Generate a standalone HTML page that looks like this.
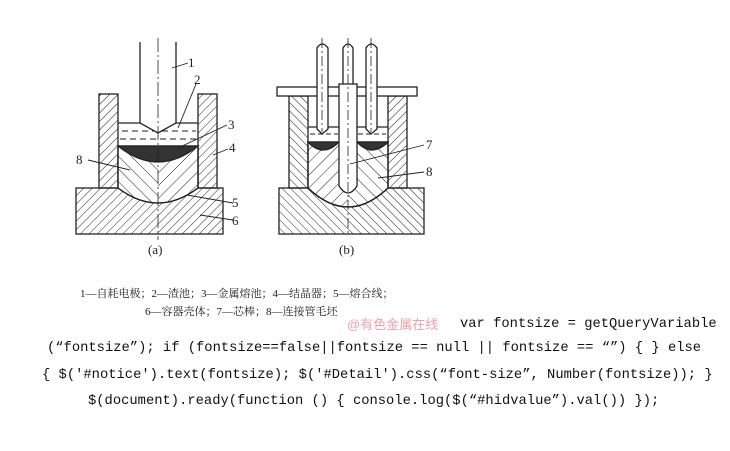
<!DOCTYPE html>
<html><head><meta charset="utf-8"><style>
body{margin:0;background:#fff;width:730px;height:451px;overflow:hidden;position:relative}
.t{position:absolute;white-space:nowrap}
.cn{font-family:"Liberation Serif","Noto Serif CJK SC",serif;font-size:11px;color:#222}
.code{font-family:"Liberation Mono","Noto Sans CJK SC",monospace;font-size:13.8px;color:#111}
</style></head><body>
<svg width="730" height="451" style="position:absolute;left:0;top:0">
<defs>
<pattern id="hb" width="6" height="6" patternUnits="userSpaceOnUse" patternTransform="rotate(45)"><line x1="0" y1="0" x2="0" y2="6" stroke="#222" stroke-width="1"/></pattern>
<pattern id="hf" width="6" height="6" patternUnits="userSpaceOnUse" patternTransform="rotate(-45)"><line x1="0" y1="0" x2="0" y2="6" stroke="#222" stroke-width="1"/></pattern>
<pattern id="ib" width="9" height="9" patternUnits="userSpaceOnUse" patternTransform="rotate(45)"><line x1="0" y1="0" x2="0" y2="9" stroke="#222" stroke-width="1"/></pattern>
<pattern id="if" width="9" height="9" patternUnits="userSpaceOnUse" patternTransform="rotate(-45)"><line x1="0" y1="0" x2="0" y2="9" stroke="#222" stroke-width="1"/></pattern>
<clipPath id="ca"><path d="M118,146 L118,188 Q158,218 198,188 L198,146 Z"/></clipPath>
<clipPath id="cb"><path d="M308,142 L308,188 Q348,226 388,188 L388,142 Z"/></clipPath>
</defs>
<g stroke="#222" stroke-width="1.3" fill="none">
<!-- (a) -->
<rect x="76" y="188" width="147" height="46" fill="url(#hb)"/>
<rect x="99" y="94" width="19" height="94" fill="url(#hb)"/>
<rect x="198" y="94" width="19" height="94" fill="url(#hb)"/>
<path d="M118,146 L118,188 Q158,218 198,188 L198,146 Z" fill="#fff"/>
<g clip-path="url(#ca)" stroke="none"><rect x="118" y="140" width="40" height="80" fill="url(#if)"/><rect x="158" y="140" width="40" height="80" fill="url(#ib)"/></g>
<path d="M118,146 L118,188 Q158,218 198,188 L198,146" />
<path d="M118,146 Q158,178 198,146 Z" fill="#333"/>
<line x1="118" y1="123" x2="198" y2="123"/>
<g stroke-dasharray="6,4" stroke-width="1"><line x1="122" y1="131" x2="196" y2="131"/><line x1="120" y1="139" x2="196" y2="139"/></g>
<path d="M140,42 L140,123 L158,133 L176,123 L176,42" fill="#fff"/>
<line x1="158" y1="38" x2="158" y2="240" stroke-width="0.8" stroke-dasharray="14,3,2,3"/>
<!-- leaders a -->
<g stroke-width="0.9"><line x1="172" y1="68" x2="188" y2="63"/><line x1="178" y1="128" x2="196" y2="84"/><line x1="178" y1="148" x2="227" y2="125"/><line x1="213" y1="155" x2="228" y2="149"/><line x1="88" y1="160" x2="130" y2="170"/><line x1="187" y1="195" x2="233" y2="203"/><line x1="200" y1="215" x2="233" y2="220"/></g>
<!-- (b) -->
<rect x="279" y="188" width="145" height="46" fill="url(#hf)"/>
<rect x="289" y="96" width="19" height="92" fill="url(#hf)"/>
<rect x="388" y="96" width="19" height="92" fill="url(#hb)"/>
<path d="M308,142 L308,188 Q348,226 388,188 L388,142 Z" fill="#fff"/>
<g clip-path="url(#cb)" stroke="none"><rect x="308" y="140" width="40" height="90" fill="url(#ib)"/><rect x="348" y="140" width="40" height="90" fill="url(#if)"/></g>
<path d="M308,142 L308,188 Q348,226 388,188 L388,142"/>
<path d="M308,142 Q323,158 339,142 Z" fill="#333"/>
<path d="M357,142 Q372,158 388,142 Z" fill="#333"/>
<line x1="308" y1="127" x2="388" y2="127"/>
<g stroke-dasharray="5,3" stroke-width="1"><line x1="310" y1="134" x2="338" y2="134"/><line x1="358" y1="134" x2="386" y2="134"/></g>
<rect x="277" y="87" width="140" height="9" fill="#fff"/>
<path d="M317,129 L317,48 Q322,40 328,48 L328,129 L322,134 Z" fill="#fff"/>
<path d="M366,129 L366,48 Q371,40 377,48 L377,129 L371,134 Z" fill="#fff"/>
<path d="M343,84 L343,48 Q348,40 353,48 L353,84" fill="#fff"/>
<path d="M339,84 L357,84 L357,186 Q348,200 339,186 Z" fill="#fff"/>
<g stroke-width="0.8" stroke-dasharray="10,3,2,3"><line x1="322" y1="38" x2="322" y2="132"/><line x1="348" y1="38" x2="348" y2="236"/><line x1="371" y1="38" x2="371" y2="132"/></g>
<g stroke-width="0.9"><line x1="350" y1="164" x2="424" y2="145"/><line x1="378" y1="178" x2="424" y2="172"/></g>
</g>
<g font-family="Liberation Serif,serif" font-size="13" fill="#222">
<text x="188" y="67">1</text><text x="194" y="84">2</text><text x="228" y="129">3</text><text x="229" y="152">4</text><text x="76" y="164">8</text><text x="232" y="207">5</text><text x="232" y="225">6</text>
<text x="426" y="149">7</text><text x="426" y="176">8</text>
<text x="148" y="254">(a)</text><text x="339" y="254">(b)</text>
</g>
</svg>
<div class="t cn" style="left:80px;top:285px">1—自耗电极；2—渣池；3—金属熔池；4—结晶器；5—熔合线；</div>
<div class="t cn" style="left:145px;top:303px">6—容器壳体；7—芯棒；8—连接管毛坯</div>
<div class="t" style="left:347px;top:314px;font-family:'Liberation Sans','Noto Sans CJK SC',sans-serif;font-size:13px;color:#f2a0a8">@有色金属在线</div>
<div class="t code" style="left:460px;top:317px">var fontsize = getQueryVariable</div>
<div class="t code" style="left:47px;top:341px">(“fontsize”); if (fontsize==false||fontsize == null || fontsize == “”) { } else</div>
<div class="t code" style="left:42px;top:368px">{ $('#notice').text(fontsize); $('#Detail').css(“font-size”, Number(fontsize)); }</div>
<div class="t code" style="left:88px;top:394px">$(document).ready(function () { console.log($(“#hidvalue”).val()) });</div>
</body></html>
